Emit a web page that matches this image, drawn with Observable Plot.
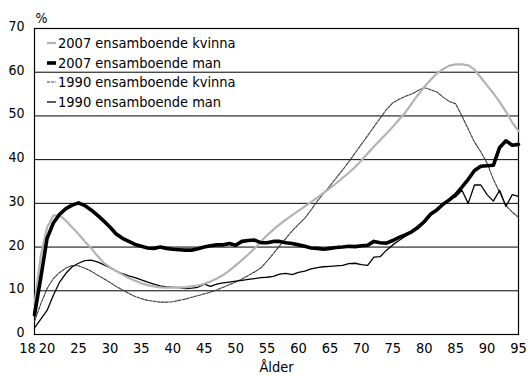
<!DOCTYPE html>
<html>
<head>
<meta charset="utf-8">
<script src="https://cdn.jsdelivr.net/npm/d3@7"></script>
<script src="https://cdn.jsdelivr.net/npm/@observablehq/plot@0.6"></script>
<style>
  body { margin: 0; background: #fff; }
  #chart { position: relative; width: 528px; height: 376px; overflow: hidden;
           font-family: 'DejaVu Sans Condensed', 'DejaVu Sans', sans-serif; }
  .legend { position: absolute; left: 46px; top: 33px; font-size: 14.5px; color: #000; }
  .legend .row { display: flex; align-items: center; height: 19.7px; }
  .legend svg { width: 11px; height: 10px; margin-right: 1px; }
</style>
</head>
<body>
<div id="chart"></div>
<script>
// Andel ensamboende efter ålder (procent), åldrarna 18–95
const ages = d3.range(18, 96);

const kvinna2007 = [
  7, 18, 24.5, 27.2, 27.3, 26, 24.5, 23, 21.3, 19.8,
  18, 16.4, 15.4, 14.5, 13.7, 12.9, 12.3, 11.7, 11.3, 11,
  10.8, 10.7, 10.7, 10.8, 10.8, 11, 11.2, 11.6, 12.1, 12.8,
  13.6, 14.6, 15.8, 17, 18.3, 19.7, 21.2, 22.7, 24, 25.2,
  26.3, 27.3, 28.3, 29.3, 30.3, 31.3, 32.4, 33.5, 34.6, 35.8,
  37, 38.3, 39.8, 41.4, 43, 44.5, 46, 47.5, 49.2, 50.8,
  52.8, 54.8, 56.6, 58.2, 59.7, 60.7, 61.5, 61.8, 61.8, 61.6,
  60.6, 58.8, 57, 55.2, 53.2, 51, 48.5, 46.5
];

const man2007 = [
  4.5, 13, 22, 25.5, 27.5, 28.8, 29.6, 30.1, 29.5, 28.5,
  27.3, 26, 24.6, 23, 22, 21.3, 20.6, 20.2, 19.8, 19.7,
  20, 19.7, 19.5, 19.4, 19.3, 19.3, 19.6, 20, 20.3, 20.5,
  20.5, 20.8, 20.4, 21.3, 21.5, 21.6, 21, 21, 21.3, 21.3,
  21, 20.8, 20.5, 20.2, 19.8, 19.7, 19.5, 19.7, 19.9, 20,
  20.2, 20.1, 20.3, 20.4, 21.3, 21, 20.9, 21.5, 22.2, 22.8,
  23.5, 24.5, 25.8, 27.5, 28.5, 29.8, 30.8, 32, 33.7, 35.5,
  37.5, 38.5, 38.6, 38.7, 42.8, 44.3, 43.3, 43.5
];

const kvinna1990 = [
  3, 7, 10.5, 12.8, 14.2, 15.2, 15.8, 15.7, 15.2, 14.5,
  13.6, 12.8, 11.9, 11, 10.2, 9.4, 8.7, 8.2, 7.8, 7.6,
  7.4, 7.4, 7.5, 7.8, 8.1, 8.5, 8.9, 9.3, 9.7, 10.2,
  10.8, 11.4, 12, 12.7, 13.5, 14.3, 15.2, 16.8, 18.5, 20.3,
  22, 23.7, 25.2, 26.6, 28.5, 30.5, 32.3, 34, 35.8, 37.6,
  39.5, 41.5, 43.5, 45.5, 47.5, 49.5, 51.5, 53, 53.8, 54.5,
  55, 55.8, 56.5, 56, 55.5, 54.3, 53.3, 52.8, 50, 47,
  44, 41.8, 39.2, 35.5, 32.5, 29.5, 28, 26.8
];

const man1990 = [
  1.5, 3.5, 5.5, 9, 12, 14, 15.5, 16.3, 16.9, 17,
  16.6, 16, 15.3, 14.5, 13.9, 13.4, 13, 12.5, 12, 11.5,
  11.1, 10.9, 10.8, 10.7, 10.5, 10.6, 10.8, 11.5, 11, 11.5,
  11.8, 12, 12.2, 12.4, 12.6, 12.8, 13, 13.1, 13.3, 13.8,
  14, 13.7, 14.2, 14.5, 15, 15.3, 15.5, 15.6, 15.7, 15.8,
  16.2, 16.3, 16, 15.8, 17.7, 17.8, 19.3, 20.5, 21.5, 22.5,
  23.7, 24.8, 26, 27.3, 28.3, 29.8, 31, 31.5, 33, 30,
  34.2, 34.2, 32, 30.5, 33, 29.3, 32, 31.6
];

const seriesNames = [
  "2007 ensamboende kvinna",
  "2007 ensamboende man",
  "1990 ensamboende kvinna",
  "1990 ensamboende man"
];

const xTicks = [18, 20, 25, 30, 35, 40, 45, 50, 55, 60, 65, 70, 75, 80, 85, 90, 95];
const yTicks = [0, 10, 20, 30, 40, 50, 60, 70];
const gridLines = [10, 20, 30, 40, 50, 60];

// Linjestilar per serie
const styles = {
  "2007 ensamboende kvinna": {stroke: "#b3b3b3", strokeWidth: 2.2, strokeDasharray: null},
  "2007 ensamboende man":    {stroke: "#000",    strokeWidth: 3.6, strokeDasharray: null},
  "1990 ensamboende kvinna": {stroke: "#3a3a3a", strokeWidth: 1.1, strokeDasharray: "3,1.2"},
  "1990 ensamboende man":    {stroke: "#000",    strokeWidth: 1.3, strokeDasharray: null}
};

const values = {
  "2007 ensamboende kvinna": kvinna2007,
  "2007 ensamboende man": man2007,
  "1990 ensamboende kvinna": kvinna1990,
  "1990 ensamboende man": man1990
};

const rows = name => ages.map((a, i) => ({age: a, value: values[name][i]}));

const drawOrder = [
  "1990 ensamboende kvinna",
  "1990 ensamboende man",
  "2007 ensamboende kvinna",
  "2007 ensamboende man"
];

const chart = Plot.plot({
  width: 528,
  height: 376,
  marginTop: 28,
  marginBottom: 42,
  marginLeft: 34,
  marginRight: 10,
  style: {
    fontFamily: "'DejaVu Sans Condensed', 'DejaVu Sans', sans-serif",
    fontSize: "14px",
    background: "#fff",
    color: "#000"
  },
  x: {domain: [18, 95]},
  y: {domain: [0, 70]},
  marks: [
    Plot.ruleY(gridLines, {stroke: "#000", strokeWidth: 1}),
    Plot.frame({stroke: "#000", strokeWidth: 1.2}),
    ...drawOrder.map(name => Plot.line(rows(name), {
      x: "age", y: "value",
      stroke: styles[name].stroke,
      strokeWidth: styles[name].strokeWidth,
      strokeDasharray: styles[name].strokeDasharray,
      strokeLinejoin: "round"
    })),
    Plot.axisY(yTicks, {tickSize: 0, tickPadding: 10, label: null, fontSize: 14, dy: -2}),
    Plot.axisX(xTicks.filter(t => t !== 18), {tickSize: 0, tickPadding: 8, label: null, fontSize: 14.5}),
    Plot.axisX([18], {tickSize: 0, tickPadding: 8, label: null, fontSize: 14.5, dx: -7}),
    Plot.text(["%"], {frameAnchor: "top-left", dy: -15, dx: 1, textAnchor: "start", fontSize: 14}),
    Plot.text(["Ålder"], {frameAnchor: "bottom", dy: 37, fontSize: 14.5})
  ]
});

const root = document.getElementById("chart");
root.appendChild(chart);

// Förklaring i diagrammets övre vänstra hörn
const legend = document.createElement("div");
legend.className = "legend";
for (const name of seriesNames) {
  const s = styles[name];
  const row = document.createElement("div");
  row.className = "row";
  row.innerHTML =
    `<svg viewBox="0 0 11 10"><line x1="1" x2="10" y1="5" y2="5" stroke="${s.stroke}" stroke-width="${s.strokeWidth}"` +
    (s.strokeDasharray ? ` stroke-dasharray="${s.strokeDasharray}"` : "") + `/></svg><span>${name}</span>`;
  legend.appendChild(row);
}
root.appendChild(legend);
</script>
</body>
</html>
